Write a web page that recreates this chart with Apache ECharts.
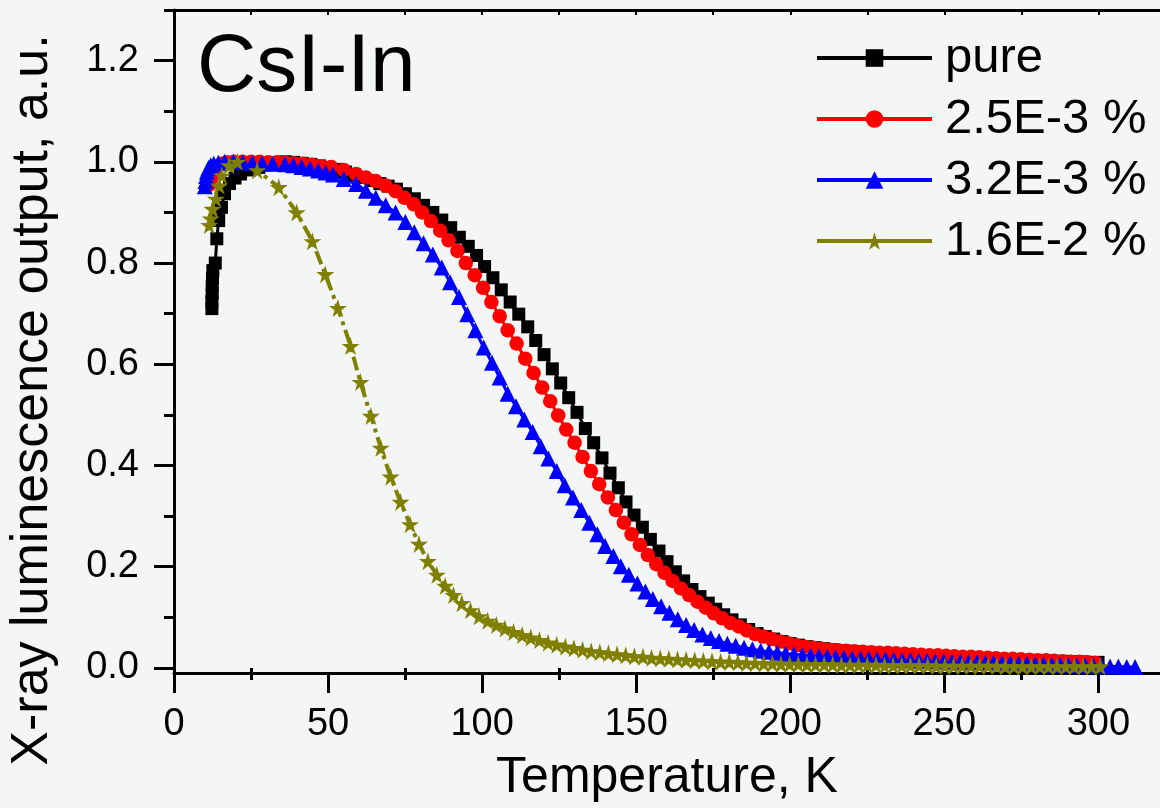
<!DOCTYPE html>
<html>
<head>
<meta charset="utf-8">
<script src="https://cdn.jsdelivr.net/npm/echarts@6/dist/echarts.min.js"></script>
<style>
  html, body { margin: 0; background: #f4f5f5; }
  #chart { width: 1160px; height: 808px; }
</style>
</head>
<body>
<div id="chart"></div>
<script>
// tick values
const xTicks = [0, 50, 100, 150, 200, 250, 300];
const xMinorTicks = [25, 75, 125, 175, 225, 275];
const xTopTicks = [0, 25, 50, 75, 100, 125, 150, 175, 200, 225, 250, 275, 300];
const yTicks = [0, 0.2, 0.4, 0.6, 0.8, 1.0, 1.2];
const yMinorTicks = [0.1, 0.3, 0.5, 0.7, 0.9, 1.1, 1.3];

const seriesNames = ["pure", "2.5E-3 %", "3.2E-3 %", "1.6E-2 %"];

// [T (K), output (a.u.)]
const pure = [
  [12.3,0.71],[12.3,0.725],[12.4,0.74],[12.4,0.755],[12.5,0.77],[12.6,0.785],[13.4,0.80],[13.9,0.848],
  [14.5,0.884],[15.4,0.91],[16.4,0.937],[18.0,0.957],[19.8,0.968],[21.6,0.976],[24.5,0.984],[27.5,0.989],
  [30.3,0.994],[33.1,0.997],[36.0,1.0],[38.8,0.999],[41.6,0.997],[44.4,0.995],[47.2,0.992],[50.0,0.989],
  [52.8,0.985],[55.6,0.980],[58.4,0.975],[61.2,0.969],[64.0,0.963],[66.8,0.957],[69.5,0.952],[72.2,0.946],
  [75.1,0.937],[78.0,0.927],[81.0,0.914],[84.0,0.900],[86.9,0.885],[89.8,0.870],[92.6,0.851],[95.5,0.833],
  [98.2,0.815],[100.8,0.793],[103.5,0.771],[106.2,0.747],[109.1,0.723],[111.9,0.699],[114.8,0.674],[117.4,0.647],
  [120.1,0.619],[122.8,0.591],[125.5,0.563],[128.1,0.534],[130.8,0.505],[133.5,0.473],[136.2,0.445],[138.9,0.415],
  [141.5,0.385],[144.2,0.356],[146.7,0.328],[149.3,0.302],[152.0,0.278],[154.6,0.254],[157.4,0.231],[160.0,0.210],
  [162.7,0.190],[165.4,0.172],[168.1,0.155],[170.7,0.141],[173.4,0.128],[175.8,0.116],[178.4,0.105],[181.1,0.095],
  [183.8,0.085],[186.5,0.076],[189.2,0.068],[191.9,0.062],[194.6,0.057],[197.3,0.052],[200.0,0.048],[202.7,0.045],
  [205.4,0.042],[208.1,0.040],[210.8,0.038],[213.5,0.036],[216.2,0.034],[218.9,0.033],[221.6,0.032],[224.3,0.030],
  [227.0,0.029],[229.7,0.028],[232.4,0.027],[235.1,0.026],[237.8,0.025],[240.5,0.024],[243.2,0.023],[245.9,0.022],
  [248.6,0.021],[251.3,0.021],[254.0,0.020],[256.7,0.019],[259.4,0.019],[262.1,0.018],[264.8,0.017],[267.5,0.017],
  [270.2,0.016],[272.9,0.016],[275.6,0.015],[278.3,0.015],[281.0,0.014],[283.7,0.014],[286.4,0.013],[289.1,0.013],
  [291.8,0.012],[294.5,0.012],[297.2,0.011],[299.9,0.011]
];

const dop25 = [
  [11.5,0.955],[11.9,0.966],[12.4,0.976],[13.1,0.984],[14.1,0.991],[15.4,0.996],[17.1,0.999],[19.4,1.0],
  [22.2,1.0],[25.0,1.0],[27.8,1.0],[30.6,0.999],[33.4,0.999],[36.2,0.998],[39.0,0.997],[41.9,0.996],
  [44.8,0.994],[47.8,0.991],[51.0,0.990],[55.1,0.984],[59.1,0.976],[62.3,0.969],[65.5,0.962],[68.7,0.953],
  [71.9,0.942],[74.8,0.929],[77.8,0.916],[80.5,0.900],[83.4,0.883],[86.4,0.864],[89.1,0.845],[92.0,0.824],
  [94.7,0.800],[97.6,0.776],[100.3,0.751],[103.0,0.723],[105.7,0.695],[108.3,0.667],[111.2,0.641],[114.0,0.611],
  [116.7,0.583],[119.5,0.554],[122.1,0.527],[124.7,0.499],[127.3,0.471],[130.0,0.445],[132.6,0.417],[135.3,0.389],
  [138.0,0.363],[140.8,0.337],[143.4,0.312],[146.0,0.287],[148.5,0.264],[151.2,0.243],[153.8,0.223],[156.5,0.205],
  [159.2,0.188],[161.8,0.172],[164.5,0.157],[167.2,0.144],[169.9,0.131],[172.6,0.119],[175.2,0.108],[177.9,0.098],
  [180.6,0.089],[183.3,0.082],[185.9,0.074],[188.6,0.067],[191.3,0.062],[194.0,0.057],[196.7,0.052],[199.3,0.049],
  [202.0,0.045],[204.7,0.042],[207.4,0.040],[210.1,0.038],[212.8,0.036],[215.5,0.035],[218.2,0.034],[220.9,0.033],
  [223.6,0.032],[226.3,0.031],[229.0,0.030],[231.7,0.030],[234.4,0.029],[237.1,0.028],[239.8,0.027],[242.5,0.026],
  [245.2,0.025],[247.9,0.025],[250.6,0.024],[253.3,0.023],[256.0,0.022],[258.7,0.022],[261.4,0.021],[264.1,0.020],
  [266.8,0.019],[269.5,0.018],[272.2,0.018],[274.9,0.017],[277.6,0.016],[280.3,0.015],[283.0,0.015],[285.7,0.014],
  [288.4,0.013],[291.1,0.012],[293.8,0.012],[296.5,0.011],[299.2,0.010]
];

const dop32 = [
  [10.0,0.952],[10.2,0.962],[10.4,0.972],[10.7,0.981],[11.2,0.988],[11.9,0.993],[12.9,0.996],[14.4,0.998],
  [16.4,1.0],[19.3,1.0],[22.3,0.999],[25.4,0.998],[28.6,0.997],[32.0,0.996],[36.0,0.995],[38.7,0.993],
  [41.4,0.990],[44.1,0.987],[46.8,0.983],[49.2,0.979],[51.6,0.975],[55.1,0.966],[59.1,0.956],[62.3,0.943],
  [65.5,0.929],[68.7,0.914],[71.9,0.900],[75.1,0.881],[78.0,0.861],[81.0,0.839],[84.0,0.817],[86.9,0.791],
  [89.6,0.762],[92.5,0.733],[95.2,0.699],[97.8,0.667],[100.5,0.633],[103.2,0.603],[105.7,0.574],[108.3,0.542],
  [111.0,0.517],[113.7,0.491],[116.4,0.466],[119.0,0.438],[121.5,0.414],[124.2,0.389],[126.8,0.361],[129.5,0.337],
  [132.2,0.312],[134.8,0.287],[137.4,0.264],[139.9,0.241],[142.6,0.221],[145.0,0.201],[147.6,0.184],[150.4,0.167],
  [153.0,0.151],[155.4,0.136],[158.1,0.122],[160.8,0.109],[163.5,0.096],[166.2,0.085],[168.8,0.075],[171.5,0.066],
  [174.2,0.059],[176.9,0.053],[179.6,0.048],[182.3,0.044],[185.0,0.040],[187.7,0.037],[190.4,0.034],[193.1,0.032],
  [195.8,0.030],[198.5,0.028],[201.2,0.027],[203.9,0.025],[206.6,0.024],[209.3,0.023],[212.0,0.022],[214.7,0.021],
  [217.4,0.020],[220.1,0.019],[222.8,0.018],[225.5,0.018],[228.2,0.017],[230.9,0.017],[233.6,0.016],[236.3,0.015],
  [239.0,0.015],[241.7,0.014],[244.4,0.014],[247.1,0.013],[249.8,0.013],[252.5,0.012],[255.2,0.012],[257.9,0.011],
  [260.6,0.011],[263.3,0.010],[266.0,0.010],[268.7,0.009],[271.4,0.009],[274.1,0.008],[276.8,0.008],[279.5,0.007],
  [282.2,0.007],[284.9,0.006],[287.6,0.006],[290.3,0.006],[293.0,0.005],[295.7,0.005],[298.4,0.004],[301.1,0.004],
  [303.8,0.003],[306.5,0.003],[309.2,0.002],[311.9,0.002]
];

const dop16 = [
  [11.4,0.875],[11.9,0.888],[12.5,0.907],[13.6,0.927],[14.7,0.953],[15.5,0.973],[17.9,0.993],[20.6,1.0],
  [27.0,0.983],[34.0,0.950],[39.8,0.900],[44.9,0.843],[49.1,0.778],[53.2,0.711],[57.3,0.636],[60.5,0.565],
  [63.9,0.498],[67.1,0.435],[70.3,0.378],[73.5,0.328],[76.6,0.284],[79.5,0.245],[82.4,0.211],[85.3,0.184],
  [88.0,0.162],[90.7,0.144],[93.4,0.128],[96.2,0.114],[99.0,0.102],[101.8,0.093],[104.6,0.085],[107.4,0.078],
  [110.2,0.071],[113.0,0.065],[115.8,0.060],[118.6,0.055],[121.4,0.050],[124.2,0.046],[127.0,0.042],[129.8,0.039],
  [132.6,0.036],[135.4,0.033],[138.2,0.031],[141.0,0.029],[143.8,0.027],[146.6,0.025],[149.4,0.023],[152.2,0.022],
  [155.0,0.020],[157.8,0.019],[160.6,0.018],[163.4,0.017],[166.2,0.016],[169.0,0.015],[171.8,0.014],[174.6,0.013],
  [177.4,0.012],[180.2,0.012],[183.0,0.011],[185.8,0.010],[188.6,0.010],[191.4,0.009],[194.2,0.009],[197.0,0.008],
  [199.8,0.008],[202.6,0.008],[205.4,0.007],[208.2,0.007],[211.0,0.007],[213.8,0.007],[216.6,0.006],[219.4,0.006],
  [222.2,0.006],[225.0,0.006],[227.8,0.006],[230.6,0.005],[233.4,0.005],[236.2,0.005],[239.0,0.005],[241.8,0.005],
  [244.6,0.005],[247.4,0.004],[250.2,0.004],[253.0,0.004],[255.8,0.004],[258.6,0.004],[261.4,0.004],[264.2,0.004],
  [267.0,0.004],[269.8,0.003],[272.6,0.003],[275.4,0.003],[278.2,0.003],[281.0,0.003],[283.8,0.003],[286.6,0.003],
  [289.4,0.003],[292.2,0.003],[295.0,0.003],[297.8,0.003],[300.6,0.003]
];

var FONT = "Liberation Sans, Arial, sans-serif";
var STAR = "path://M50,0 L61,35 L98,35 L68,57 L79,91 L50,70 L21,91 L32,57 L2,35 L39,35 Z";

var chart = echarts.init(document.getElementById("chart"));

function axisBase(min, max) {
  return {
    type: "value",
    min: min,
    max: max,
    splitLine: { show: false },
    axisLine: { show: false },
    axisTick: { show: false },
    axisLabel: { show: false },
  };
}

var xMain = axisBase(0, 320);
xMain.position = "bottom";
xMain.axisLine = { show: true, onZero: false, lineStyle: { color: "#000", width: 3 } };
xMain.axisTick = { show: true, customValues: xTicks, length: 20, lineStyle: { color: "#000", width: 3 } };
xMain.axisLabel = {
  show: true, customValues: xTicks, margin: 33,
  color: "#000", fontSize: 38, fontFamily: FONT,
};
xMain.name = "Temperature, K";
xMain.nameLocation = "middle";
xMain.nameGap = 80;
xMain.nameTextStyle = { color: "#000", fontSize: 50, fontFamily: FONT };

var xMinor = axisBase(0, 320);
xMinor.position = "bottom";
xMinor.axisTick = { show: true, customValues: xMinorTicks, length: 12, lineStyle: { color: "#000", width: 3 } };

var xTop = axisBase(0, 320);
xTop.position = "top";
xTop.axisLine = { show: true, onZero: false, lineStyle: { color: "#000", width: 3 } };
xTop.axisTick = { show: true, inside: true, customValues: xTopTicks, length: 5, lineStyle: { color: "#000", width: 2 } };

var yMain = axisBase(-0.01, 1.3);
yMain.position = "left";
yMain.axisLine = { show: true, onZero: false, lineStyle: { color: "#000", width: 3 } };
yMain.axisTick = { show: true, customValues: yTicks, length: 20, lineStyle: { color: "#000", width: 3 } };
yMain.axisLabel = {
  show: true, customValues: yTicks, margin: 35,
  color: "#000", fontSize: 38, fontFamily: FONT,
  formatter: function (v) { return v.toFixed(1); },
};

var yMinor = axisBase(-0.01, 1.3);
yMinor.position = "left";
yMinor.axisTick = { show: true, customValues: yMinorTicks, length: 10, lineStyle: { color: "#000", width: 3 } };

function mkSeries(name, data, color, symbol, size, lineType, lineWidth) {
  return {
    name: name,
    type: "line",
    data: data,
    xAxisIndex: 0,
    yAxisIndex: 0,
    symbol: symbol,
    symbolSize: size,
    showSymbol: true,
    itemStyle: { color: color },
    lineStyle: { color: color, width: lineWidth, type: lineType },
    emphasis: { disabled: true },
  };
}

chart.setOption({
  animation: false,
  backgroundColor: "#f4f5f5",
  title: {
    text: "CsI-In",
    left: 192,
    top: 22,
    textStyle: { color: "#000", fontSize: 82, fontWeight: "normal", fontFamily: FONT },
  },
  legend: {
    data: seriesNames,
    orient: "vertical",
    left: 815,
    top: 33,
    padding: 0,
    itemGap: 11,
    itemWidth: 115,
    itemHeight: 22,
    lineStyle: { type: "solid", width: 4 },
    textStyle: { color: "#000", fontSize: 49, lineHeight: 50, fontFamily: FONT, padding: [0, 0, 0, 8] },
  },
  grid: { left: 174, top: 10, right: -11, bottom: 135, containLabel: false },
  xAxis: [xMain, xMinor, xTop],
  yAxis: [yMain, yMinor],
  graphic: [
    {
      type: "text",
      x: 33,
      y: 400,
      rotation: Math.PI / 2,
      style: {
        text: "X-ray luminescence output, a.u.",
        fill: "#000",
        font: "52px " + FONT,
        align: "center",
        verticalAlign: "middle",
      },
    },
  ],
  series: [
    mkSeries(seriesNames[0], pure, "#000000", "rect", 13, "solid", 3),
    mkSeries(seriesNames[1], dop25, "#ff0000", "circle", 14.5, "solid", 3),
    mkSeries(seriesNames[2], dop32, "#0000ff", "triangle", 16, "solid", 3),
    mkSeries(seriesNames[3], dop16, "#808000", STAR, 18, [14, 5, 4, 5], 4),
  ],
});
</script>
</body>
</html>
